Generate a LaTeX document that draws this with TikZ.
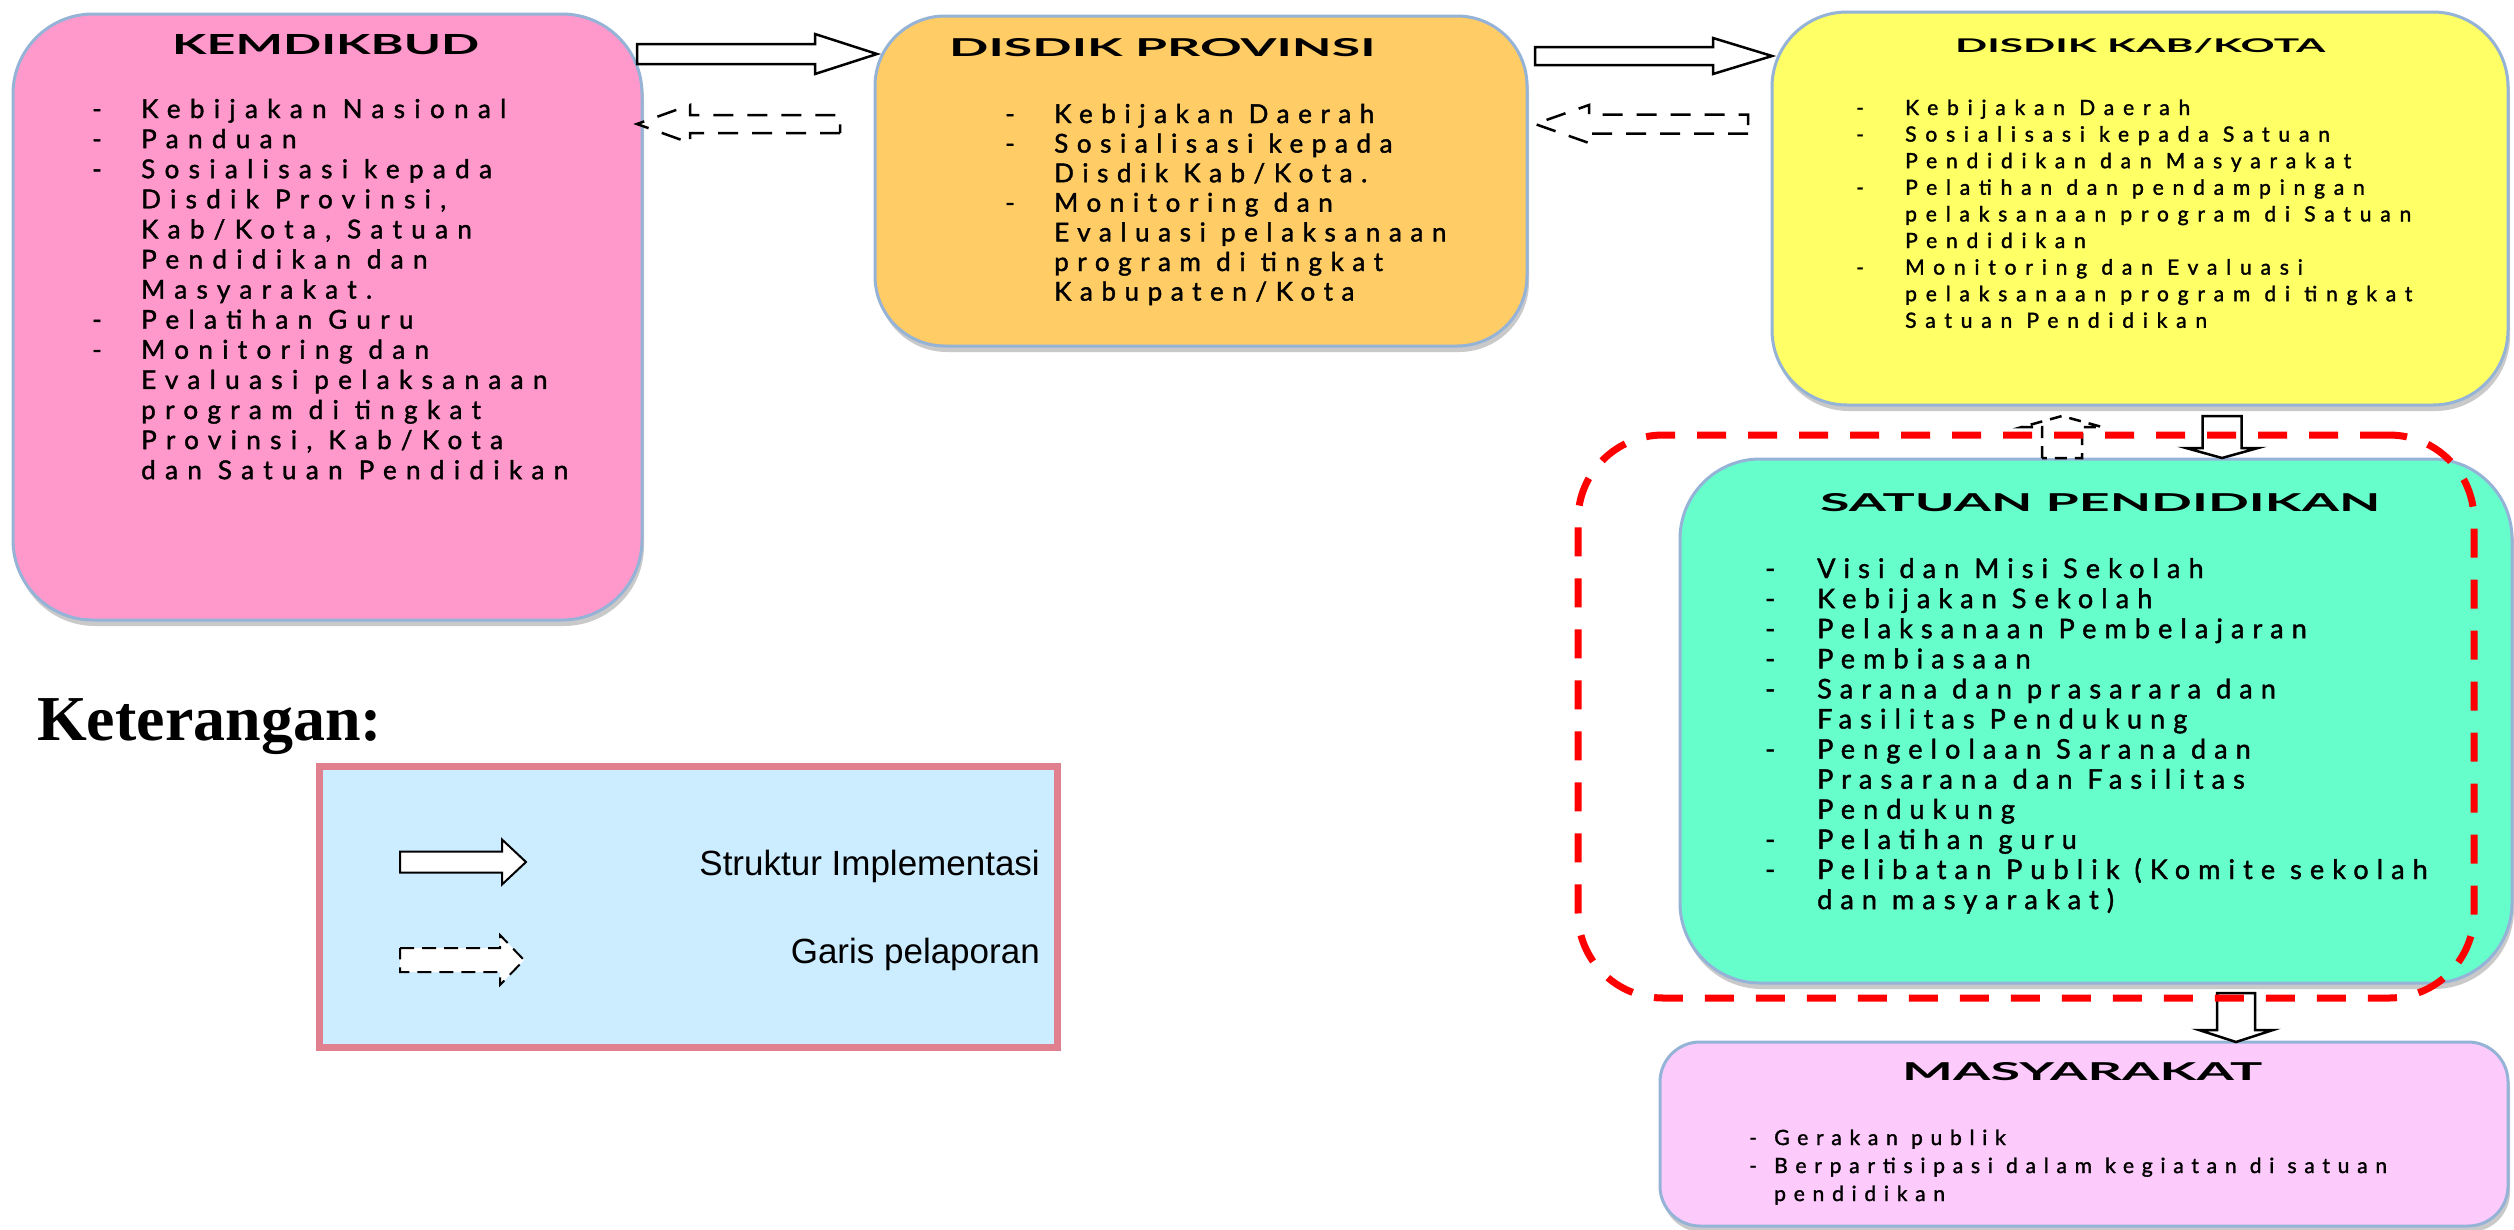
\documentclass[tikz,border=0pt]{standalone}
\usepackage{fontspec}
\usepackage{graphicx}
\setmainfont{Lato}
\newfontfamily\kemfont[LetterSpace=36, FakeBold=1.5]{Lato}
\newfontfamily\provfont[LetterSpace=33, FakeBold=1.5]{Lato}
\newfontfamily\satfont[LetterSpace=30, FakeBold=1.5]{Lato}
\newfontfamily\kabfont[LetterSpace=42, FakeBold=1.5]{Lato}
\newfontfamily\masfont[LetterSpace=37, FakeBold=1.5]{Lato}
\newfontfamily\titlefont{Lato}
\newfontfamily\ketfont{Liberation Serif}
\newfontfamily\legfont{Liberation Sans}
\usetikzlibrary{calc,shadows}
\definecolor{kempink}{HTML}{FF99CC}
\definecolor{provor}{HTML}{FFCC66}
\definecolor{kabyel}{HTML}{FFFF66}
\definecolor{satcy}{HTML}{66FFCC}
\definecolor{maspk}{HTML}{FCCBFC}
\definecolor{bordbl}{HTML}{95B3D7}
\definecolor{legbl}{HTML}{CCECFF}
\definecolor{legpk}{HTML}{E0808F}
\newlength\DshW
\newcommand\Dsh{\makebox[\DshW][l]{-}}
\newcommand\Ind{\hspace*{\DshW}}
% #1 style, #2 tail, #3 tip, #4 shaft half width, #5 head half width, #6 head length
\newcommand\BlkArrow[6][]{%
  \coordinate (baq) at ($(#3)!#6!(#2)$);
  \draw[#1] ($(#2)!#4!90:(#3)$) -- ($(baq)!#4!90:(#3)$) -- ($(baq)!#5!90:(#3)$)
    -- (#3) -- ($(baq)!#5!-90:(#3)$) -- ($(baq)!#4!-90:(#3)$) -- ($(#2)!#4!-90:(#3)$) -- cycle;}
\tikzset{
  orgbox/.style={draw=bordbl, line width=3pt, inner sep=0pt, outer sep=0pt,
    drop shadow={shadow xshift=2pt, shadow yshift=-6pt, opacity=0.35, fill=black!60}},
  ttl/.style={anchor=base west, inner sep=0pt},
  lst/.style={anchor=base west, inner sep=0pt},
  solidarr/.style={draw=black, fill=white, line width=2.5pt, line join=miter},
  dasharr/.style={draw=black, fill=white, line width=2.5pt, dash pattern=on 20pt off 14pt},
}
\begin{document}
\begin{tikzpicture}[x=1pt, y=-1pt]
\useasboundingbox (0,0) rectangle (2514,1229);
\fill[white] (0,0) rectangle (2514,1229);

% boxes
\node[orgbox, fill=kempink, rounded corners=80pt, minimum width=629pt, minimum height=606pt] (kem) at (327.5,317) {};
\node[orgbox, fill=provor, rounded corners=70pt, minimum width=652pt, minimum height=330pt] (prov) at (1201,181) {};
\node[orgbox, fill=kabyel, rounded corners=75pt, minimum width=736pt, minimum height=393pt] (kab) at (2140,208.5) {};
\node[orgbox, fill=satcy, rounded corners=80pt, minimum width=832pt, minimum height=524pt] (sat) at (2096,721) {};
\node[orgbox, fill=maspk, rounded corners=40pt, minimum width=848pt, minimum height=184pt] (mas) at (2084,1134) {};

% titles
\node[ttl] (kemt) at (172,54) {\resizebox{307pt}{20pt}{\titlefont\bfseries KEMDIKBUD}};
\node[ttl] (provt) at (949,56) {\resizebox{426pt}{18pt}{\titlefont\bfseries DISDIK PROVINSI}};
\node[ttl] (kabt) at (1955,52) {\resizebox{370pt}{14pt}{\titlefont\bfseries DISDIK KAB/KOTA}};
\node[ttl] (satt) at (1820,511) {\resizebox{560pt}{18pt}{\titlefont\bfseries SATUAN PENDIDIKAN}};
\node[ttl] (mast) at (1902,1080) {\resizebox{360pt}{18pt}{\titlefont\bfseries MASYARAKAT}};

% lists
\node[lst] (keml) at (92,118) {\kemfont\fontsize{26pt}{30.1pt}\selectfont\setlength\DshW{49pt}%
\begin{tabular}[t]{@{}l@{}}
\Dsh Kebijakan Nasional\\
\Dsh Panduan\\
\Dsh Sosialisasi kepada\\
\Ind Disdik Provinsi,\\
\Ind Kab/Kota, Satuan\\
\Ind Pendidikan dan\\
\Ind Masyarakat.\\
\Dsh Pelatihan Guru\\
\Dsh Monitoring dan\\
\Ind Evaluasi pelaksanaan\\
\Ind program di tingkat\\
\Ind Provinsi, Kab/Kota\\
\Ind dan Satuan Pendidikan
\end{tabular}};

\node[lst] (provl) at (1005,123) {\provfont\fontsize{26pt}{29.6pt}\selectfont\setlength\DshW{49pt}%
\begin{tabular}[t]{@{}l@{}}
\Dsh Kebijakan Daerah\\
\Dsh Sosialisasi kepada\\
\Ind Disdik Kab/Kota.\\
\Dsh Monitoring dan\\
\Ind Evaluasi pelaksanaan\\
\Ind program di tingkat\\
\Ind Kabupaten/Kota
\end{tabular}};

\node[lst] (kabl) at (1856,115) {\kabfont\fontsize{21pt}{26.6pt}\selectfont\setlength\DshW{49pt}%
\begin{tabular}[t]{@{}l@{}}
\Dsh Kebijakan Daerah\\
\Dsh Sosialisasi kepada Satuan\\
\Ind Pendidikan dan Masyarakat\\
\Dsh Pelatihan dan pendampingan\\
\Ind pelaksanaan program di Satuan\\
\Ind Pendidikan\\
\Dsh Monitoring dan Evaluasi\\
\Ind pelaksanaan program di tingkat\\
\Ind Satuan Pendidikan
\end{tabular}};

\node[lst] (satl) at (1765,578) {\satfont\fontsize{27pt}{30.1pt}\selectfont\setlength\DshW{52pt}%
\begin{tabular}[t]{@{}l@{}}
\Dsh Visi dan Misi Sekolah\\
\Dsh Kebijakan Sekolah\\
\Dsh Pelaksanaan Pembelajaran\\
\Dsh Pembiasaan\\
\Dsh Sarana dan prasarara dan\\
\Ind Fasilitas Pendukung\\
\Dsh Pengelolaan Sarana dan\\
\Ind Prasarana dan Fasilitas\\
\Ind Pendukung\\
\Dsh Pelatihan guru\\
\Dsh Pelibatan Publik (Komite sekolah\\
\Ind dan masyarakat)
\end{tabular}};

\node[lst] (masl) at (1749,1145) {\masfont\fontsize{21pt}{28pt}\selectfont\setlength\DshW{25pt}%
\begin{tabular}[t]{@{}l@{}}
\Dsh Gerakan publik\\
\Dsh Berpartisipasi dalam kegiatan di satuan\\
\Ind pendidikan
\end{tabular}};

% connectors
\coordinate (a1s) at (637,54);   \coordinate (a1e) at (877,54);
\coordinate (a2s) at (840,124);  \coordinate (a2e) at (637,124);
\coordinate (a3s) at (1535,56);  \coordinate (a3e) at (1772,56);
\coordinate (a4s) at (1748,124); \coordinate (a4e) at (1535,124);
\coordinate (a5s) at (2062,458); \coordinate (a5e) at (2062,416);
\coordinate (a6s) at (2222,416); \coordinate (a6e) at (2222,458);
\coordinate (a7s) at (2236,993); \coordinate (a7e) at (2236,1042);
\BlkArrow[solidarr]{a1s}{a1e}{10pt}{20pt}{62pt}
\BlkArrow[dasharr]{a2s}{a2e}{9pt}{19pt}{53pt}
\BlkArrow[solidarr]{a3s}{a3e}{9pt}{18pt}{59pt}
\BlkArrow[dasharr]{a4s}{a4e}{9.5pt}{19pt}{54pt}
\BlkArrow[dasharr, line width=2.5pt, dash pattern=on 12pt off 8pt]{a5s}{a5e}{20pt}{40pt}{11pt}
\BlkArrow[solidarr]{a6s}{a6e}{19.5pt}{36pt}{10pt}
\BlkArrow[solidarr]{a7s}{a7e}{19pt}{37pt}{12pt}

% red dashed group
\node[draw=red, line width=7pt, dash pattern=on 29pt off 22pt, rounded corners=85pt,
  minimum width=896pt, minimum height=563pt, inner sep=0pt] (grp) at (2026,716.5) {};

% legend
\node[anchor=base west, inner sep=0pt] (ket) at (37,740) {\ketfont\bfseries\fontsize{64pt}{70pt}\selectfont Keterangan:};
\node[draw=legpk, fill=legbl, line width=7pt, minimum width=738pt, minimum height=281pt, inner sep=0pt] (leg) at (688.5,907) {};
\coordinate (l1s) at (400,862); \coordinate (l1e) at (526,862);
\coordinate (l2s) at (400,960); \coordinate (l2e) at (524,960);
\BlkArrow[solidarr, line width=2pt]{l1s}{l1e}{10.5pt}{22.5pt}{24pt}
\BlkArrow[dasharr, line width=2pt, dash pattern=on 14pt off 8pt]{l2s}{l2e}{12pt}{25pt}{24pt}
\node[anchor=base east, inner sep=0pt] (leg1) at (1040,875) {\legfont\fontsize{35pt}{40pt}\selectfont Struktur Implementasi};
\node[anchor=base east, inner sep=0pt] (leg2) at (1040,963) {\legfont\fontsize{35pt}{40pt}\selectfont Garis pelaporan};
\end{tikzpicture}
\end{document}
